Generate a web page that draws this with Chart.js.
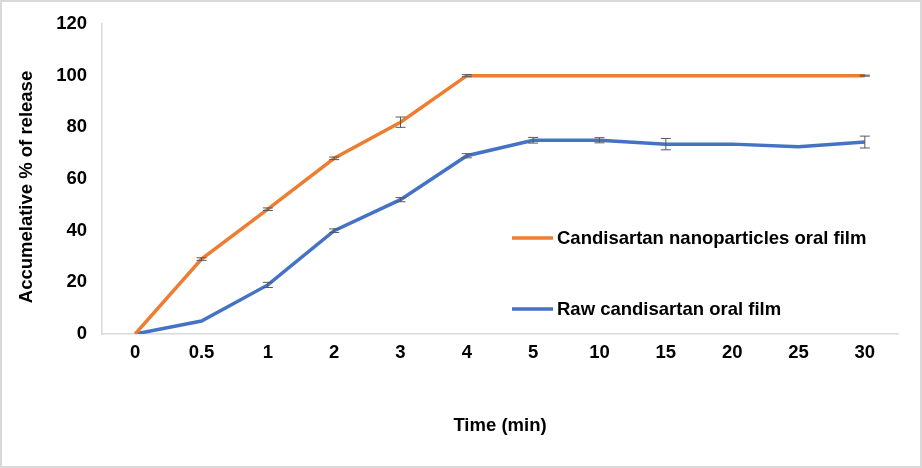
<!DOCTYPE html>
<html>
<head>
<meta charset="utf-8">
<script src="https://cdn.jsdelivr.net/npm/chart.js@4.4.1/dist/chart.umd.min.js"></script>
<style>
    html, body { margin: 0; padding: 0; background: #fff; }
    .frame { width: 918px; height: 464px; border: 2px solid #d9d9d9; position: relative; }
    canvas { display: block; }
</style>
</head>
<body>
<div class="frame">
    <canvas id="chart" width="918" height="464"></canvas>
</div>
<script>
// time points (min)
const timeLabels = ['0', '0.5', '1', '2', '3', '4', '5', '10', '15', '20', '25', '30'];

// cumulative release (%)
const nanoRelease = [0, 29, 48.3, 68, 82, 100, 100, 100, 100, 100, 100, 100];
const nanoError = [0, 0.5, 0.5, 0.5, 2, 0.4, 0, 0, 0, 0, 0, 0.2];
const rawRelease = [0, 5, 19, 40, 52, 69, 75, 75, 73.5, 73.5, 72.5, 74.3];
const rawError = [0, 0, 1, 0.7, 0.8, 0.8, 1.1, 1, 2.2, 0, 0, 2.3];

const seriesNames = ['Candisartan nanoparticles oral film', 'Raw candisartan oral film'];
const yTitle = 'Accumelative % of release';

const fontBold = { family: '"Liberation Sans", Arial, sans-serif', size: 18.5, weight: 'bold' };
const fontCss = 'bold 18.5px "Liberation Sans", Arial, sans-serif';

// draws +/- error bars with caps using the chart scales
const errorBars = {
    id: 'errorBars',
    afterDatasetsDraw(chart) {
        const ctx = chart.ctx;
        const xs = chart.scales.x;
        const ys = chart.scales.y;
        ctx.save();
        ctx.strokeStyle = '#595959';
        ctx.lineWidth = 1;
        chart.data.datasets.forEach(ds => {
            ds.data.forEach((v, i) => {
                const err = ds.errors[i];
                if (!err) return;
                const x = xs.getPixelForValue(i);
                const yTop = ys.getPixelForValue(v + err);
                const yBot = ys.getPixelForValue(v - err);
                ctx.beginPath();
                ctx.moveTo(x, yTop); ctx.lineTo(x, yBot);
                ctx.moveTo(x - 5, yTop); ctx.lineTo(x + 5, yTop);
                ctx.moveTo(x - 5, yBot); ctx.lineTo(x + 5, yBot);
                ctx.stroke();
            });
        });
        ctx.restore();
    }
};

// legend placed inside the plot, plus the y title sitting a bit low like the original
const innerLegend = {
    id: 'innerLegend',
    afterDraw(chart) {
        const ctx = chart.ctx;
        const area = chart.chartArea;
        const x0 = area.left + 410;
        const rows = [area.top + 214, area.top + 285];
        ctx.save();
        ctx.font = fontCss;
        ctx.textBaseline = 'middle';
        ctx.fillStyle = '#000';
        chart.data.datasets.forEach((ds, i) => {
            ctx.strokeStyle = ds.borderColor;
            ctx.lineWidth = 3.5;
            ctx.beginPath();
            ctx.moveTo(x0, rows[i]);
            ctx.lineTo(x0 + 41, rows[i]);
            ctx.stroke();
            ctx.fillText(ds.label, x0 + 45, rows[i] + 1);
        });

        // y axis title
        ctx.translate(25, (area.top + area.bottom) / 2 + 8);
        ctx.rotate(-Math.PI / 2);
        ctx.textAlign = 'center';
        ctx.fillText(yTitle, 0, 0);
        ctx.restore();
    }
};

new Chart(document.getElementById('chart'), {
    type: 'line',
    data: {
        labels: timeLabels,
        datasets: [
            {
                label: seriesNames[0],
                data: nanoRelease,
                errors: nanoError,
                borderColor: '#ED7D31',
                borderWidth: 3.5,
                pointRadius: 0,
                tension: 0
            },
            {
                label: seriesNames[1],
                data: rawRelease,
                errors: rawError,
                borderColor: '#4472C4',
                borderWidth: 3.5,
                pointRadius: 0,
                tension: 0
            }
        ]
    },
    options: {
        responsive: false,
        animation: false,
        layout: { padding: { top: 22, right: 22, left: 0, bottom: 0 } },
        plugins: {
            legend: { display: false },
            tooltip: { enabled: false }
        },
        scales: {
            x: {
                offset: true,
                grid: { display: false, drawTicks: false },
                border: { color: '#d9d9d9', width: 1.5 },
                ticks: { color: '#000', font: fontBold, padding: 8, maxRotation: 0, autoSkip: false },
                title: { display: true, text: 'Time (min)', color: '#000', font: fontBold, padding: { top: 0, bottom: 29 } },
                afterFit(scale) { scale.height = 132; }
            },
            y: {
                min: 0,
                max: 120,
                // invisible tick marks keep the labels away from the axis line
                grid: { display: true, drawOnChartArea: false, drawTicks: true, tickLength: 11, color: 'rgba(0,0,0,0)' },
                border: { color: '#d9d9d9', width: 1.5 },
                ticks: { stepSize: 20, color: '#000', font: fontBold, padding: 4 },
                afterFit(scale) { scale.width = 100; }
            }
        }
    },
    plugins: [errorBars, innerLegend]
});
</script>
</body>
</html>
